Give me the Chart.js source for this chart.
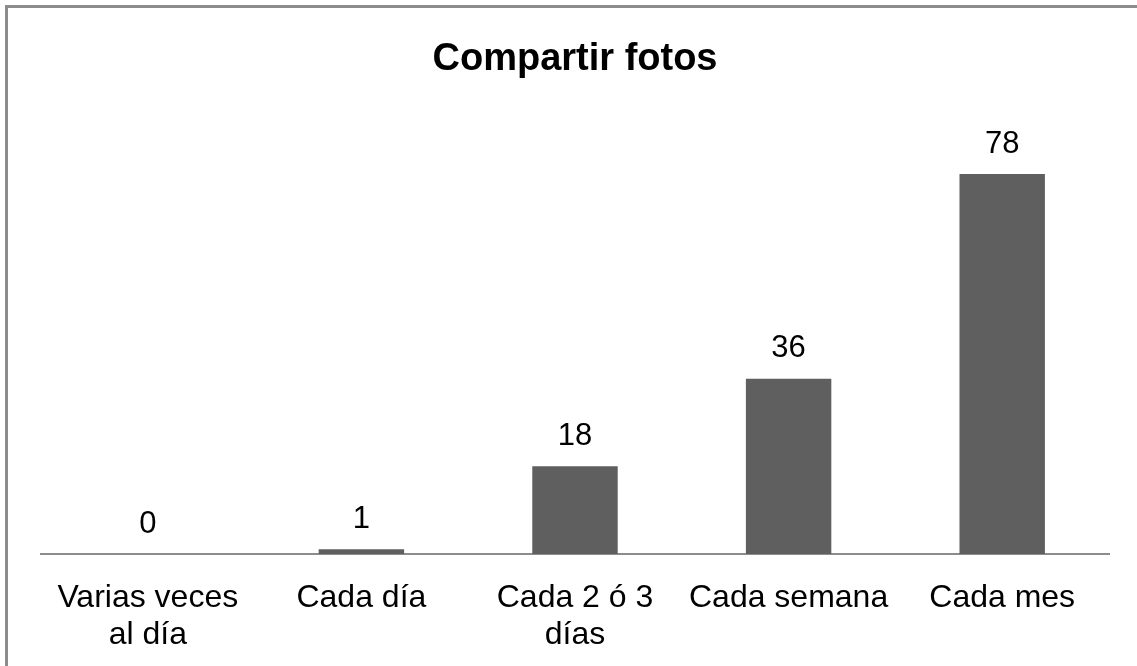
<!DOCTYPE html>
<html>
<head>
<meta charset="utf-8">
<script src="https://cdn.jsdelivr.net/npm/chart.js@4"></script>
<style>
  html, body { margin: 0; padding: 0; background: #fff; overflow: hidden; }
  #frame {
    position: absolute; left: 5px; top: 5px;
    width: 1200px; height: 800px;
    border: 3px solid #8c8c8c;
  }
  #wrap { position: absolute; left: 0; top: 0; width: 1137px; height: 666px; }
</style>
</head>
<body>
<div id="frame"></div>
<div id="wrap"><canvas id="chart"></canvas></div>
<script>
// categories and values
const categories = [
  ['Varias veces', 'al día'],
  'Cada día',
  ['Cada 2 ó 3', 'días'],
  'Cada semana',
  'Cada mes',
];
const counts = [0, 1, 18, 36, 78];

const FONT = "'Liberation Sans', Arial, sans-serif";

/** Value labels above each bar */
const valueLabels = {
  id: 'valueLabels',
  afterDatasetsDraw(chart) {
    const { ctx } = chart;
    const meta = chart.getDatasetMeta(0);
    ctx.save();
    ctx.font = `31px ${FONT}`;
    ctx.fillStyle = '#000';
    ctx.textAlign = 'center';
    ctx.textBaseline = 'middle';
    meta.data.forEach((bar, i) => {
      ctx.fillText(String(counts[i]), bar.x, bar.y - 30);
    });
    ctx.restore();
  },
};

new Chart(document.getElementById('chart'), {
  type: 'bar',
  data: {
    labels: categories,
    datasets: [{
      data: counts,
      backgroundColor: '#5f5f5f',
      barPercentage: 0.4,
      categoryPercentage: 1,
    }],
  },
  options: {
    responsive: true,
    maintainAspectRatio: false,
    animation: false,
    layout: { padding: { left: 41, right: 28, top: 0, bottom: 0 } },
    plugins: {
      legend: { display: false },
      tooltip: { enabled: false },
      title: {
        display: true,
        text: 'Compartir fotos',
        color: '#000',
        font: { family: FONT, size: 38, weight: 'bold', lineHeight: 1.2 },
        padding: { top: 37, bottom: 33 },
      },
    },
    scales: {
      x: {
        grid: { display: false, drawTicks: false },
        border: { color: '#8c8c8c', width: 2 },
        ticks: {
          color: '#000',
          padding: 26,
          maxRotation: 0,
          autoSkip: false,
          font: { family: FONT, size: 32, lineHeight: 1.15 },
        },
        afterFit(scale) { scale.height = 112; },
      },
      y: {
        display: false,
        min: 0,
        max: 90,
      },
    },
  },
  plugins: [valueLabels],
});
</script>
</body>
</html>
